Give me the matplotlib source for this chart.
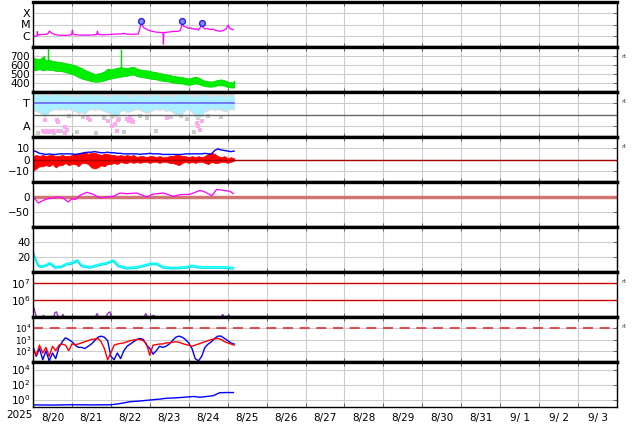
import numpy as np
import matplotlib
matplotlib.use("Agg")
import matplotlib.pyplot as plt
from matplotlib.ticker import FixedLocator, NullLocator, NullFormatter, FixedFormatter

# ---------------- data (hours since 2025-08-20 00:00) ----------------
day_labels = ['8/20', '8/21', '8/22', '8/23', '8/24', '8/25', '8/26', '8/27',
              '8/28', '8/29', '8/30', '8/31', '9/ 1', '9/ 2', '9/ 3']
year_label = '2025'

# X-ray flux (log10 W/m2)
xray_h = [0.2, 1.5, 2.5, 2.7, 3.0, 4.3, 6, 8.4, 9.5, 10.1, 11, 12, 13.6, 16, 19, 22, 23.8, 24.3, 24.6,
          25.5, 28, 32, 36, 39.2, 39.7, 40.2, 43, 47.5, 52, 55, 56.1, 57.5, 61, 64.9, 65.8, 66.8,
          67.5, 68.5, 70.1, 72, 74.2, 76, 78.3, 80.2, 80.4, 80.6, 82.4, 85, 87, 89, 90.6, 91.5,
          92.1, 92.8, 94.8, 96, 97, 98, 99, 100, 101, 102, 103, 104.2, 105, 106, 107.5, 109, 111,
          113.2, 115, 117, 119, 120.4, 121, 122, 123.5]
xray_log = [-6.0, -6.05, -6.0, -5.64, -5.95, -5.9, -5.88, -5.87, -5.75, -5.58, -5.7, -5.8, -5.9,
            -5.95, -5.96, -5.95, -5.9, -5.5, -5.8, -5.9, -5.93, -5.95, -5.93, -5.9, -5.6, -5.88,
            -5.92, -5.88, -5.85, -5.82, -5.78, -5.85, -5.87, -5.85, -5.4, -4.72, -5.1, -5.3,
            -5.43, -5.55, -5.63, -5.68, -5.7, -5.72, -6.74, -5.72, -5.69, -5.65, -5.6, -5.62,
            -5.55, -5.2, -4.72, -5.15, -5.25, -5.35, -5.28, -5.4, -5.35, -5.45, -5.38, -5.5,
            -5.3, -4.9, -5.3, -5.4, -5.35, -5.45, -5.42, -5.55, -5.6, -5.55, -5.4, -5.04, -5.3,
            -5.4, -5.47]
flare_h = [66.8, 92.1, 104.2]
flare_log = [-4.72, -4.72, -4.9]

# 2-hourly sample times
t2 = np.arange(0, 125, 2)

# solar wind speed band (km/s)
speed_lo = [540, 545, 555, 540, 550, 545, 545, 535, 535, 530, 520, 510, 500, 485, 465, 450, 440,
            430, 420, 415, 415, 420, 430, 440, 450, 455, 465, 470, 475, 480, 490, 495, 475, 470,
            465, 455, 450, 445, 440, 430, 425, 420, 415, 405, 400, 395, 395, 385, 380, 385, 395,
            390, 375, 365, 360, 360, 365, 375, 375, 370, 355, 350, 350]
speed_hi = [680, 670, 665, 690, 650, 660, 645, 640, 635, 630, 620, 615, 605, 595, 580, 565, 545,
            530, 515, 500, 505, 515, 530, 560, 550, 560, 570, 575, 570, 565, 575, 580, 560, 550,
            545, 540, 535, 525, 520, 510, 505, 495, 490, 480, 475, 470, 465, 455, 450, 460, 470,
            460, 440, 425, 420, 415, 425, 435, 440, 430, 415, 410, 405]
speed_spike_h = [6.5, 9.2, 54.5, 124]
speed_spike_v = [700, 790, 770, 420]

# IMF sector (T=3, A=1)
sector_lo = [2.5, 2.4, 2.3, 2.0, 1.9, 2.4, 2.5, 2.6, 2.5, 2.6, 2.5, 2.6, 2.5, 2.4, 2.2, 2.3,
             2.2, 2.5, 2.6, 2.5, 2.6, 2.5, 2.4, 2.3, 2.2, 1.9, 2.0, 2.4, 2.5, 2.3, 2.4, 2.5, 2.6,
             2.5, 2.4, 2.2, 2.4, 2.5, 2.6, 2.5, 2.6, 2.4, 2.5, 2.3, 2.1, 2.0, 2.2, 2.5, 2.6, 2.3,
             1.9, 1.8, 2.0, 2.4, 2.5, 2.6, 2.5, 2.6, 2.5, 2.4, 2.5, 2.6, 2.5]
sector_hi = [3.8, 3.75, 3.7, 3.8, 3.7, 3.6, 3.75, 3.8, 3.7, 3.75, 3.6, 3.7, 3.75, 3.5, 3.6,
             3.7, 3.75, 3.8, 3.6, 3.7, 3.75, 3.7, 3.6, 3.5, 3.7, 3.75, 3.6, 3.8, 3.7, 3.6, 3.5,
             3.7, 3.75, 3.6, 3.7, 3.5, 3.6, 3.7, 3.75, 3.6, 3.5, 3.7, 3.6, 3.5, 3.6, 3.7, 3.75,
             3.8, 3.7, 3.6, 3.5, 3.7, 3.75, 3.7, 3.6, 3.5, 3.6, 3.7, 3.6, 3.5, 3.6, 3.7, 3.5]
away_h = [6.2, 7.4, 7.5, 8.8, 10, 11.3, 12.4, 14.6, 15.2, 15.4, 19.7, 19.7, 20.8, 34.1, 35.1,
          46.4, 48.5, 50.6, 51.6, 52.6, 57.8, 59, 60, 61, 61.8, 82.4, 100.9, 101.9, 103, 104]
away_v = [0.55, 1.54, 0.45, 0.5, 0.55, 0.45, 0.5, 1.54, 1.3, 0.5, 0.86, 0.4, 0.65, 1.69, 1.48,
          1.4, 0.95, 1.2, 0.5, 1.55, 1.6, 1.45, 1.7, 1.5, 1.3, 1.69, 1.25, 0.95, 0.65, 1.4]
gray_h = [3, 9, 13, 17, 22, 27, 31, 39, 44, 49, 53, 56, 66, 70, 76, 85, 91, 95, 99, 102, 108, 116]
gray_v = [0.4, 0.45, 0.4, 0.5, 1.9, 0.45, 1.8, 0.4, 1.7, 1.8, 1.6, 0.45, 1.9, 1.7, 0.5, 1.8,
          1.9, 1.6, 0.45, 1.7, 1.9, 1.8]

# IMF Bt and Bz (nT)
bt = [8, 7, 5.5, 5, 4.5, 5, 4.5, 4.5, 5, 5, 5, 5, 5, 4.5, 5, 5.5, 6, 6.5, 6.5, 7, 6.5, 6, 6,
      6.5, 6, 6, 5.5, 5.5, 5, 5, 5, 5, 5, 4.5, 5, 5, 5.5, 5, 5, 5, 4.5, 4.5, 4.5, 4.5, 4.5, 4.5,
      4.5, 5, 5, 5, 5, 5, 5, 5.5, 5, 5, 8, 9.5, 8.5, 8, 7.5, 7, 7.5]
bz_lo = [-10, -8, -6, -6, -5, -6, -4, -7, -5, -5, -3, -5, -4, -4, -6, -3, -3, -4, -7, -8, -7, -5,
         -6, -4, -4, -3, -4, -2, -3, -3, -2, -3, -2, -3, -2, -2, -3, -2, -2, -3, -2, -2, -3, -3,
         -4, -5, -3, -2, -3, -2, -3, -2, -2, -3, -4, -2, -3, -3, -2, -2, -3, -2, -1]
bz_hi = [3, 4, 3, 4, 3, 4, 4, 3, 3, 4, 3, 3, 4, 5, 5, 6, 7, 5, 6, 6, 5, 4, 5, 5, 4, 4, 3, 4, 3,
         4, 3, 4, 2, 3, 3, 2, 3, 3, 2, 3, 2, 2, 3, 3, 4, 4, 3, 3, 2, 3, 2, 3, 2, 3, 5, 6, 5, 3,
         2, 3, 1, 2, 1]

# Dst-like index (nT)
dst_h = [0.2, 3.3, 6.4, 9.4, 12.5, 15.6, 18.7, 21.8, 23.8, 25.9, 29, 33.1, 37.2, 41.3, 45.4,
         49.5, 53.6, 57.8, 63.9, 70.1, 74.2, 80.4, 86.5, 90.6, 96.8, 103, 106, 110.2, 113.3,
         117.3, 121.5, 123.5]
dst_v = [0, -20, -11, -5.6, -3.3, 0, -4.4, -16.7, -5.6, -8.9, 5.6, 15.6, 8.9, -3.3, 0, 2.2,
         13.3, 11.1, 13.3, 0, 10, 13.3, 2.2, 7.8, 8.9, 22.2, 16.7, 4.4, 25.6, 22.2, 18.9, 11.1]

# cyan series
cyan_h = [0.2, 1.2, 2.7, 4.3, 7.4, 10.5, 13.6, 17.7, 20.8, 23.8, 27.3, 30, 35.1, 41.3, 45.4,
          49.5, 52.6, 57.8, 63.9, 68, 72.2, 76.3, 80.4, 86.5, 94.8, 97.8, 103, 111.2, 117.3, 123.5]
cyan_v = [27, 20, 11.6, 8, 9, 12.4, 7, 8, 11.6, 12.4, 16, 9, 7, 10.7, 12.4, 16, 9, 6, 7, 9,
          11.6, 11.6, 7, 6, 7, 9, 7, 7, 7, 6]

# electron flux (log10)
el_h = [0, 0.7, 1.5, 2.5, 4, 6, 6.5, 7, 9, 12.5, 13.5, 14.5, 15.5, 17, 18.5, 19.5, 24, 38,
        39.5, 40.5, 44, 46.5, 47.5, 48.5, 55, 68, 69.5, 71, 74.5, 75.5, 96, 97, 98, 115, 117,
        118, 121, 122, 124]
el_log = [5.65, 5.5, 5.2, 4.9, 4.8, 4.8, 5.1, 4.9, 4.8, 4.9, 5.25, 5.3, 5.0, 4.9, 5.15, 4.9,
          4.8, 4.9, 5.2, 5.0, 4.9, 5.25, 5.3, 4.9, 4.8, 4.9, 5.2, 4.95, 5.1, 4.9, 4.9, 5.05, 4.9,
          4.9, 5.15, 4.95, 5.1, 4.9, 4.9]

# panel 8 blue / red (log10)
p8_blue = [2.4, 1.5, 2.2, 1.2, 2.0, 1.1, 1.8, 1.3, 2.3, 2.8, 3.15, 3.0, 2.8, 2.5, 2.3, 2.3,
           2.2, 2.4, 2.6, 2.9, 3.2, 3.3, 3.2, 2.9, 1.5, 1.2, 1.8, 1.3, 2.0, 2.4, 2.6, 2.8, 3.0,
           3.1, 3.0, 2.5, 2.2, 1.7, 2.0, 2.4, 2.3, 2.4, 2.6, 2.9, 3.2, 3.3, 3.2, 3.0, 2.7, 2.2,
           1.3, 1.1, 1.5, 2.3, 2.6, 2.8, 3.1, 3.3, 3.3, 3.1, 2.9, 2.7, 2.6]
p8_red = [2.2, 1.6, 2.5, 1.8, 2.3, 1.5, 2.4, 2.0, 2.5, 2.6, 2.5, 2.0, 2.6, 2.55, 2.6, 2.7, 2.8,
          2.9, 3.0, 3.05, 3.1, 2.8, 2.2, 1.2, 1.8, 2.5, 2.6, 2.65, 2.7, 2.8, 2.9, 2.95, 3.0,
          3.0, 2.9, 2.6, 1.6, 2.5, 2.55, 2.6, 2.6, 2.7, 2.7, 2.75, 2.8, 2.75, 2.65, 2.55, 2.5,
          2.4, 2.5, 2.6, 2.7, 2.8, 2.9, 3.0, 3.05, 3.1, 3.0, 2.8, 2.7, 2.6, 2.5]

# panel 9 blue (log10)
p9_h = [0, 12, 24, 36, 48, 52, 56, 60, 66, 72, 78, 82, 88, 93, 99, 103, 107, 111, 115, 119, 123.5]
p9_log = [-0.72, -0.74, -0.7, -0.72, -0.7, -0.6, -0.45, -0.29, -0.2, -0.07, 0.05, 0.16, 0.22,
          0.3, 0.4, 0.3, 0.4, 0.5, 0.9, 0.93, 0.93]

# ---------------- figure ----------------
W, H = 634, 424
fig = plt.figure(figsize=(W / 100, H / 100), dpi=100)
left, right = 33, 617
tops = [2, 47, 92, 137, 182, 227, 272, 317, 362]
ph = 45
axes = []
for i, tp in enumerate(tops):
    ax = fig.add_axes([left / W, 1 - (tp + ph) / H, (right - left) / W, ph / H])
    axes.append(ax)

GRID = '#cccccc'
FS = 7.5
for i, ax in enumerate(axes):
    ax.set_xlim(0, 360)
    ax.xaxis.set_major_locator(FixedLocator(np.arange(0, 361, 24)))
    ax.xaxis.set_minor_locator(FixedLocator(np.arange(12, 360, 24)))
    ax.xaxis.set_major_formatter(NullFormatter())
    ax.grid(True, which='major', color=GRID, lw=0.8)
    ax.set_axisbelow(True)
    ax.tick_params(axis='x', which='major', direction='in', length=3, top=True, bottom=True,
                   color='#555555', width=0.6)
    ax.tick_params(axis='x', which='minor', length=0, labelsize=FS)
    ax.tick_params(axis='y', which='major', direction='in', length=3, left=False, right=True,
                   labelsize=FS, pad=2, color='#555555', width=0.6)
    ax.tick_params(axis='y', which='minor', length=0)
    for s in ['left', 'right']:
        ax.spines[s].set_linewidth(1.0)
    ax.spines['top'].set_linewidth(2.4)
    ax.spines['bottom'].set_linewidth(2.4)
    if i == len(axes) - 1:
        ax.xaxis.set_minor_formatter(FixedFormatter(day_labels))
        ax.spines['bottom'].set_linewidth(1.0)
        ax.tick_params(axis='x', which='minor', pad=4)
    else:
        ax.xaxis.set_minor_formatter(NullFormatter())

# panel 1: X-ray
ax = axes[0]
ax.set_yscale('log')
ax.set_ylim(1e-7, 1e-3)
ax.plot(xray_h, 10 ** np.array(xray_log), color='#ff00ff', lw=0.9)
ax.plot(flare_h, 10 ** np.array(flare_log), 'o', ms=4.2, mfc='#8888ff', mec='#2222ee', mew=1)
ax.yaxis.set_major_locator(FixedLocator([1e-6, 1e-5, 1e-4]))
ax.yaxis.set_major_formatter(FixedFormatter(['C', 'M', 'X']))
ax.yaxis.set_minor_locator(NullLocator())
ax.tick_params(axis='y', labelsize=8)

# panel 2: speed
ax = axes[1]
ax.set_ylim(300, 800)
ax.fill_between(t2, speed_lo, speed_hi, color='#00ee00', lw=0.6, edgecolor='#00dd00')
for h, v in zip(speed_spike_h, speed_spike_v):
    ax.plot([h, h], [np.interp(h, t2, speed_hi), v], color='#00dd00', lw=1)
ax.yaxis.set_major_locator(FixedLocator([400, 500, 600, 700]))

# panel 3: sector
ax = axes[2]
ax.set_ylim(0, 4)
ax.scatter(gray_h, gray_v, s=6, marker='s', color='#cccccc', lw=0)
ax.fill_between(t2, np.array(sector_lo) - 0.15, 3.9, color='#dddddd', lw=0)
ax.fill_between(t2, sector_lo, sector_hi, color='#aaeeff', lw=0.5, edgecolor='#aaeeff')
ax.scatter(away_h, away_v, s=6, marker='s', color='#ffaaee', lw=0)
ax.axhline(2, color='#666666', lw=1)
ax.plot([0, 124], [3, 3], color='#6666ff', lw=1.2)
ax.yaxis.set_major_locator(FixedLocator([1, 3]))
ax.yaxis.set_major_formatter(FixedFormatter(['A', 'T']))
ax.tick_params(axis='y', labelsize=8)

# panel 4: Bt / Bz
ax = axes[3]
ax.set_ylim(-20, 20)
ax.axhline(0, color='#aa0000', lw=1)
ax.fill_between(t2, bz_lo, bz_hi, color='#ff0000', lw=0.6, edgecolor='#ff0000')
ax.plot(t2, bt, color='#0000ff', lw=1)
ax.yaxis.set_major_locator(FixedLocator([-10, 0, 10]))
ax.yaxis.set_major_formatter(FixedFormatter(['\u221210', '0', '10']))

# panel 5: Dst
ax = axes[4]
ax.set_ylim(-100, 50)
ax.axhline(0, color='#cc6060', lw=2.5, alpha=0.85)
ax.plot(dst_h, dst_v, color='#ff00ff', lw=0.9)
ax.yaxis.set_major_locator(FixedLocator([-50, 0]))
ax.yaxis.set_major_formatter(FixedFormatter(['\u221250', '0']))

# panel 6: cyan
ax = axes[5]
ax.set_ylim(0, 60)
ax.plot(cyan_h, cyan_v, color='#00ffff', lw=1.1)
ax.plot(cyan_h, np.array(cyan_v) - 2, color='#00e5e5', lw=0.9)
ax.yaxis.set_major_locator(FixedLocator([20, 40]))

# panel 7: electron flux
ax = axes[6]
ax.set_yscale('log')
ax.set_ylim(1e5, 10 ** 7.65)
ax.grid(False, axis='y')
ax.axhline(1e7, color='#cc0000', lw=1)
ax.axhline(1e6, color='#cc0000', lw=1)
ax.plot(el_h, 10 ** np.array(el_log), color='#9933cc', lw=1)
ax.yaxis.set_major_locator(FixedLocator([1e6, 1e7]))
ax.yaxis.set_minor_locator(NullLocator())

# panel 8: blue / red log
ax = axes[7]
ax.set_yscale('log')
ax.set_ylim(1e1, 1e5)
ax.axhline(1e4, color='#dd3333', lw=1.2, dashes=(6, 4))
ax.plot(t2, 10 ** np.array(p8_blue), color='#0000ff', lw=1)
ax.plot(t2, 10 ** np.array(p8_red), color='#ff0000', lw=1)
ax.yaxis.set_major_locator(FixedLocator([1e2, 1e3, 1e4]))
ax.yaxis.set_minor_locator(NullLocator())
ax.tick_params(axis='y', labelsize=6.3, pad=1)

# panel 9: blue log
ax = axes[8]
ax.set_yscale('log')
ax.set_ylim(1e-1, 1e5)
ax.plot(p9_h, 10 ** np.array(p9_log), color='#0000ff', lw=1)
ax.yaxis.set_major_locator(FixedLocator([1e0, 1e2, 1e4]))
ax.yaxis.set_minor_locator(NullLocator())

# "rt" markers at right
for idx in [1, 2, 3, 6, 7]:
    axes[idx].text(1.008, 0.78, 'rt', transform=axes[idx].transAxes, fontsize=4.5,
                   color='#444444', va='center', ha='left')

fig.text(19 / W, 1 - 415 / H, year_label, fontsize=FS, ha='center', va='center')

fig.savefig('out.png', dpi=100)
